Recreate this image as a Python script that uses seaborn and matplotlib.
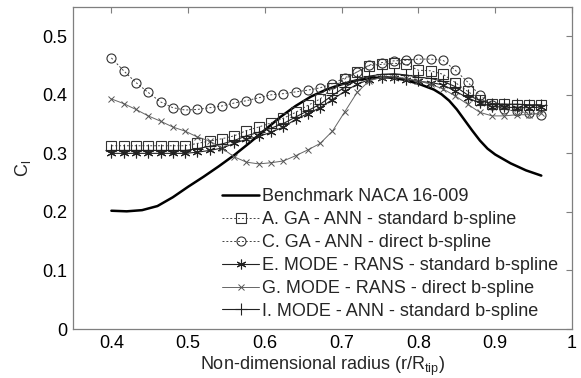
import numpy as np
import pandas as pd
import matplotlib
matplotlib.use("Agg")
import matplotlib.pyplot as plt
import seaborn as sns

# ---- data ----
r = [0.400, 0.416, 0.432, 0.448, 0.464, 0.480, 0.496, 0.512, 0.528, 0.544,
     0.560, 0.576, 0.592, 0.608, 0.624, 0.640, 0.656, 0.672, 0.688, 0.704,
     0.720, 0.736, 0.752, 0.768, 0.784, 0.800, 0.816, 0.832, 0.848, 0.864,
     0.880, 0.896, 0.912, 0.928, 0.944, 0.960]

bench_r = [0.40, 0.42, 0.44, 0.46, 0.48, 0.50, 0.52, 0.54, 0.56, 0.58,
           0.60, 0.62, 0.64, 0.66, 0.68, 0.70, 0.72, 0.74, 0.76, 0.78,
           0.80, 0.82, 0.83, 0.84, 0.85, 0.86, 0.87, 0.88, 0.89, 0.90,
           0.92, 0.94, 0.96]
bench_cl = [0.202, 0.201, 0.203, 0.210, 0.225, 0.243, 0.260, 0.278, 0.297, 0.318,
            0.340, 0.362, 0.381, 0.397, 0.409, 0.418, 0.425, 0.429, 0.430, 0.426,
            0.419, 0.409, 0.401, 0.390, 0.375, 0.357, 0.339, 0.322, 0.308, 0.298,
            0.283, 0.271, 0.262]

cl_A = [0.313, 0.313, 0.313, 0.313, 0.313, 0.313, 0.313, 0.317, 0.321, 0.325,
        0.330, 0.339, 0.345, 0.352, 0.360, 0.370, 0.382, 0.393, 0.412, 0.427,
        0.439, 0.450, 0.452, 0.454, 0.452, 0.442, 0.441, 0.435, 0.421, 0.406,
        0.392, 0.385, 0.384, 0.383, 0.383, 0.382]
cl_C = [0.463, 0.441, 0.421, 0.404, 0.388, 0.378, 0.374, 0.375, 0.378, 0.381,
        0.386, 0.390, 0.395, 0.400, 0.402, 0.405, 0.408, 0.412, 0.419, 0.429,
        0.439, 0.451, 0.455, 0.458, 0.459, 0.461, 0.461, 0.459, 0.442, 0.422,
        0.399, 0.383, 0.375, 0.372, 0.369, 0.366]
cl_E = [0.300, 0.300, 0.300, 0.300, 0.300, 0.300, 0.300, 0.302, 0.305, 0.309,
        0.317, 0.324, 0.329, 0.336, 0.345, 0.358, 0.368, 0.378, 0.392, 0.406,
        0.418, 0.426, 0.429, 0.429, 0.426, 0.423, 0.421, 0.417, 0.406, 0.395,
        0.386, 0.380, 0.379, 0.378, 0.378, 0.379]
cl_G = [0.393, 0.385, 0.375, 0.364, 0.355, 0.345, 0.338, 0.328, 0.321, 0.309,
        0.294, 0.285, 0.282, 0.284, 0.287, 0.296, 0.306, 0.317, 0.338, 0.371,
        0.404, 0.424, 0.430, 0.431, 0.428, 0.424, 0.418, 0.410, 0.398, 0.384,
        0.370, 0.364, 0.364, 0.366, 0.366, 0.369]
cl_I = [0.305, 0.305, 0.305, 0.305, 0.305, 0.305, 0.305, 0.308, 0.312, 0.316,
        0.322, 0.330, 0.336, 0.343, 0.351, 0.362, 0.373, 0.384, 0.399, 0.413,
        0.425, 0.432, 0.435, 0.436, 0.434, 0.430, 0.428, 0.423, 0.414, 0.400,
        0.390, 0.385, 0.384, 0.384, 0.383, 0.383]

labels = ["Benchmark NACA 16-009",
          "A. GA - ANN - standard b-spline",
          "C. GA - ANN - direct b-spline",
          "E. MODE - RANS - standard b-spline",
          "G. MODE - RANS - direct b-spline",
          "I. MODE - ANN - standard b-spline"]

xticks = [0.4, 0.5, 0.6, 0.7, 0.8, 0.9, 1.0]
xticklabels = ["0.4", "0.5", "0.6", "0.7", "0.8", "0.9", "1"]
yticks = [0, 0.1, 0.2, 0.3, 0.4, 0.5]
yticklabels = ["0", "0.1", "0.2", "0.3", "0.4", "0.5"]

# ---- style ----
sns.set_style("white")
plt.rcParams["font.family"] = ["Liberation Sans", "DejaVu Sans"]
plt.rcParams["mathtext.default"] = "regular"
FS = 13

fig = plt.figure(figsize=(5.81, 3.78), dpi=100)
ax = fig.add_axes([73/581, 1-329/378, (572-73)/581, (329-7)/378])

sns.lineplot(x=bench_r, y=bench_cl, ax=ax, color="black", linewidth=1.8,
             label=labels[0])
sns.lineplot(x=r, y=cl_A, ax=ax, color="#444444", linewidth=0.7,
             linestyle=(0, (2, 2)), marker="s", markersize=6.5,
             markerfacecolor="none", markeredgecolor="#333333",
             markeredgewidth=0.8, label=labels[1])
sns.lineplot(x=r, y=cl_C, ax=ax, color="#444444", linewidth=0.7,
             linestyle=(0, (2, 2)), marker="o", markersize=6.5,
             markerfacecolor="none", markeredgecolor="#333333",
             markeredgewidth=0.8, label=labels[2])
sns.lineplot(x=r, y=cl_E, ax=ax, color="#222222", linewidth=0.8,
             marker=(6, 2, 0), markersize=7, markeredgecolor="#222222",
             markeredgewidth=0.8, label=labels[3])
sns.lineplot(x=r, y=cl_G, ax=ax, color="#666666", linewidth=0.7,
             marker="x", markersize=4.5, markeredgecolor="#555555",
             markeredgewidth=0.7, label=labels[4])
sns.lineplot(x=r, y=cl_I, ax=ax, color="#222222", linewidth=0.8,
             marker="+", markersize=9, markeredgecolor="#222222",
             markeredgewidth=0.8, label=labels[5])

ax.set_xlim(0.35, 1.0)
ax.set_ylim(0, 0.55)
ax.set_xticks(xticks)
ax.set_xticklabels(xticklabels)
ax.set_yticks(yticks)
ax.set_yticklabels(yticklabels)
ax.tick_params(direction="in", length=4, width=0.8, color="#7f7f7f",
               labelsize=FS, top=True, right=True, labelcolor="black", pad=4)
for s in ax.spines.values():
    s.set_visible(True)
    s.set_color("#7f7f7f")
    s.set_linewidth(0.9)

ax.set_xlabel("Non-dimensional radius (r/R$_{tip}$)", fontsize=FS, labelpad=2)
ax.set_ylabel("C$_l$", fontsize=FS, labelpad=7)

leg = ax.legend(loc="upper left", bbox_to_anchor=(222/581, 1-188/378),
                bbox_transform=fig.transFigure, frameon=False, fontsize=FS,
                borderpad=0, borderaxespad=0, handlelength=2.05,
                handletextpad=0.15, labelspacing=0.33)

fig.savefig("out.png", dpi=100)
